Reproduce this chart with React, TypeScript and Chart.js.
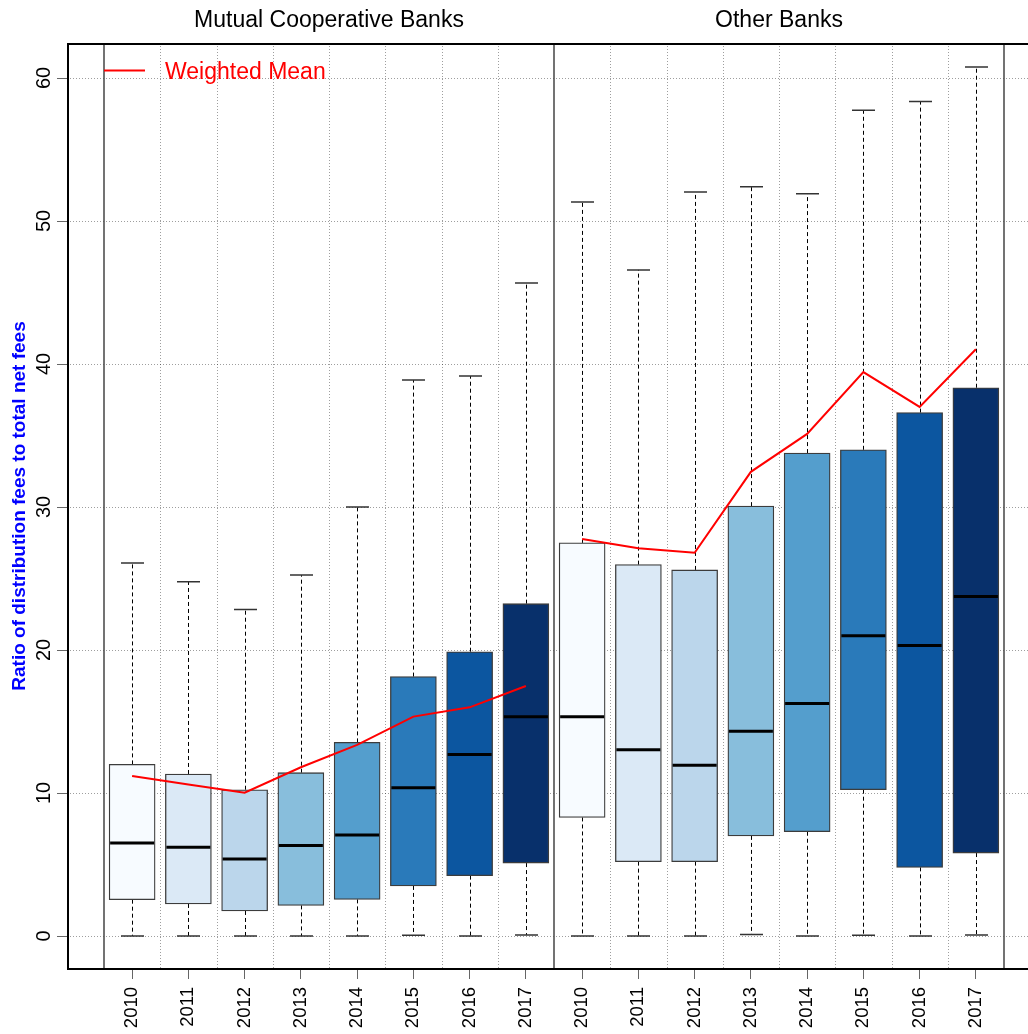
import React, { useEffect, useRef } from 'react';
import { Chart, registerables } from 'chart.js';

Chart.register(...registerables);

// ---------- data ----------
const years = ['2010', '2011', '2012', '2013', '2014', '2015', '2016', '2017'];
const groups = ['Mutual Cooperative Banks', 'Other Banks'];
const yTicks = [0, 10, 20, 30, 40, 50, 60];
const legendLabel = 'Weighted Mean';
const yTitle = 'Ratio of distribution fees to total net fees';

const mcbMin = [0, 0, 0, 0, 0, 0.05, 0, 0.07];
const mcbQ1 = [2.54, 2.24, 1.75, 2.14, 2.56, 3.5, 4.22, 5.1];
const mcbMedian = [6.5, 6.2, 5.38, 6.32, 7.06, 10.37, 12.7, 15.34];
const mcbQ3 = [12.0, 11.33, 10.23, 11.42, 13.54, 18.14, 19.88, 23.24];
const mcbMax = [26.08, 24.78, 22.84, 25.24, 30.0, 38.88, 39.16, 45.66];
const mcbMean = [11.19, 10.6, 10.02, 11.8, 13.36, 15.34, 15.99, 17.48];

const obMin = [0, 0, 0, 0.1, 0, 0.05, 0, 0.07];
const obQ1 = [8.29, 5.2, 5.2, 7.0, 7.29, 10.23, 4.8, 5.8];
const obMedian = [15.34, 13.03, 11.94, 14.31, 16.26, 21.0, 20.31, 23.74];
const obQ3 = [27.49, 25.97, 25.6, 30.06, 33.77, 34.0, 36.6, 38.34];
const obMax = [51.33, 46.58, 52.02, 52.4, 51.9, 57.74, 58.35, 60.77];
const obMean = [27.77, 27.11, 26.8, 32.46, 35.11, 39.43, 37.0, 41.03];

const boxColors = ['#F7FBFF', '#DBE9F6', '#BBD6EB', '#88BEDC', '#549ECD', '#2A7ABA', '#0C56A0', '#08306B'];

// ---------- derived ----------
const labels16 = [...years, ...years];
const xPos = labels16.map((_, i) => i + 0.5);
const allMin = [...mcbMin, ...obMin];
const allQ1 = [...mcbQ1, ...obQ1];
const allMed = [...mcbMedian, ...obMedian];
const allQ3 = [...mcbQ3, ...obQ3];
const allMax = [...mcbMax, ...obMax];

const FONT = '"Liberation Sans", Arial, Helvetica, sans-serif';
const RED = '#FF0000';
const GRID = 'rgba(0,0,0,0.38)';

const X_MIN = -37 / 56.25;
const X_MAX = (1028 - 104) / 56.25;
const Y_MIN = -33 / 14.3;
const Y_MAX = 60 + 35 / 14.3;

const boxPlugin = {
  id: 'boxPlugin',
  beforeDatasetsDraw(chart: any) {
    const { ctx, chartArea, scales } = chart;
    const { top, bottom } = chartArea;
    const x = scales.x;
    const y = scales.y;
    ctx.save();
    // vertical dotted grid between categories
    ctx.strokeStyle = GRID;
    ctx.lineWidth = 1;
    ctx.setLineDash([1, 2]);
    for (let k = 1; k < 16; k++) {
      if (k === 8) continue;
      const px = Math.round(x.getPixelForValue(k)) + 0.5;
      ctx.beginPath();
      ctx.moveTo(px, top);
      ctx.lineTo(px, bottom);
      ctx.stroke();
    }
    // panel separators
    ctx.setLineDash([]);
    ctx.strokeStyle = '#444';
    ctx.lineWidth = 1.5;
    [0, 8, 16].forEach((k) => {
      const px = x.getPixelForValue(k);
      ctx.beginPath();
      ctx.moveTo(px, top);
      ctx.lineTo(px, bottom);
      ctx.stroke();
    });
    // whiskers
    const meta = chart.getDatasetMeta(0);
    for (let i = 0; i < xPos.length; i++) {
      const el = meta.data[i];
      const cx = Math.round(x.getPixelForValue(xPos[i])) + 0.5;
      const half = el ? el.width / 4 : 11;
      ctx.strokeStyle = '#000';
      ctx.lineWidth = 1;
      ctx.setLineDash([4, 3]);
      ctx.beginPath();
      ctx.moveTo(cx, y.getPixelForValue(allQ3[i]));
      ctx.lineTo(cx, y.getPixelForValue(allMax[i]));
      ctx.moveTo(cx, y.getPixelForValue(allQ1[i]));
      ctx.lineTo(cx, y.getPixelForValue(allMin[i]));
      ctx.stroke();
      ctx.setLineDash([]);
      ctx.strokeStyle = '#333';
      ctx.lineWidth = 1.5;
      ctx.beginPath();
      const yMax = y.getPixelForValue(allMax[i]);
      const yMin = y.getPixelForValue(allMin[i]);
      ctx.moveTo(cx - half, yMax);
      ctx.lineTo(cx + half, yMax);
      ctx.moveTo(cx - half, yMin);
      ctx.lineTo(cx + half, yMin);
      ctx.stroke();
    }
    ctx.restore();
  },
  afterDatasetDraw(chart: any, args: any) {
    if (args.index !== 0) return;
    const { ctx, scales } = chart;
    const y = scales.y;
    const meta = chart.getDatasetMeta(0);
    ctx.save();
    ctx.strokeStyle = '#000';
    ctx.lineWidth = 3;
    for (let i = 0; i < xPos.length; i++) {
      const el = meta.data[i];
      const py = y.getPixelForValue(allMed[i]);
      ctx.beginPath();
      ctx.moveTo(el.x - el.width / 2 + 1, py);
      ctx.lineTo(el.x + el.width / 2 - 1, py);
      ctx.stroke();
    }
    ctx.restore();
  },
  afterDraw(chart: any) {
    const { ctx, chartArea, scales } = chart;
    const { top, bottom, left, right } = chartArea;
    const x = scales.x;
    const y = scales.y;
    ctx.save();
    // frame
    ctx.strokeStyle = '#000';
    ctx.lineWidth = 2;
    ctx.beginPath();
    ctx.moveTo(right + 5, top + 1);
    ctx.lineTo(left + 1, top + 1);
    ctx.lineTo(left + 1, bottom);
    ctx.lineTo(right + 5, bottom);
    ctx.stroke();
    // panel titles
    ctx.fillStyle = '#000';
    ctx.font = `23px ${FONT}`;
    ctx.textAlign = 'center';
    ctx.textBaseline = 'alphabetic';
    ctx.fillText(groups[0], x.getPixelForValue(4), 27);
    ctx.fillText(groups[1], x.getPixelForValue(12), 27);
    // legend
    ctx.strokeStyle = RED;
    ctx.lineWidth = 2;
    ctx.beginPath();
    ctx.moveTo(left + 37, 70.5);
    ctx.lineTo(left + 78, 70.5);
    ctx.stroke();
    ctx.fillStyle = RED;
    ctx.font = `23px ${FONT}`;
    ctx.textAlign = 'left';
    ctx.fillText(legendLabel, left + 98, 79);
    // y tick labels (rotated)
    ctx.fillStyle = '#000';
    ctx.font = `20px ${FONT}`;
    ctx.textAlign = 'center';
    ctx.textBaseline = 'alphabetic';
    yTicks.forEach((v) => {
      const py = y.getPixelForValue(v);
      ctx.save();
      ctx.translate(left - 17, py);
      ctx.rotate(-Math.PI / 2);
      ctx.fillText(String(v), 0, 0);
      ctx.restore();
    });
    ctx.restore();
  },
};

export default function App() {
  const ref = useRef<HTMLCanvasElement | null>(null);
  useEffect(() => {
    if (!ref.current) return;
    const chart = new Chart(ref.current, {
      type: 'bar',
      data: {
        datasets: [
          {
            type: 'bar',
            label: 'Boxes',
            data: xPos.map((xv, i) => ({ x: xv, y: [allQ1[i], allQ3[i]] })) as any,
            backgroundColor: [...boxColors, ...boxColors],
            borderColor: '#3c3c3c',
            borderWidth: 1.3,
            borderSkipped: false,
            barThickness: 46,
            order: 2,
          } as any,
          {
            type: 'line',
            label: legendLabel,
            data: years.map((_, i) => ({ x: xPos[i], y: mcbMean[i] })),
            borderColor: RED,
            borderWidth: 2,
            pointRadius: 0,
            tension: 0,
            order: 0,
          } as any,
          {
            type: 'line',
            label: legendLabel + ' (other)',
            data: years.map((_, i) => ({ x: xPos[i + 8], y: obMean[i] })),
            borderColor: RED,
            borderWidth: 2,
            pointRadius: 0,
            tension: 0,
            order: 0,
          } as any,
        ],
      },
      options: {
        animation: false,
        responsive: false,
        devicePixelRatio: 1,
        layout: { padding: { top: 43, left: 0, right: 0, bottom: 0 } },
        plugins: {
          legend: { display: false },
          tooltip: { enabled: false },
          title: { display: false },
        },
        scales: {
          x: {
            type: 'linear',
            min: X_MIN,
            max: X_MAX,
            offset: false,
            afterBuildTicks: (s: any) => {
              s.ticks = xPos.map((v) => ({ value: v }));
            },
            afterFit: (s: any) => {
              s.height = 65;
            },
            ticks: {
              autoSkip: false,
              minRotation: 90,
              maxRotation: 90,
              padding: 8,
              color: '#000',
              font: { family: FONT, size: 18.5 },
              callback: (_v: any, i: number) => labels16[i],
            },
            grid: {
              offset: false,
              drawOnChartArea: false,
              drawTicks: true,
              tickLength: 10,
              tickColor: '#666',
              tickWidth: 1,
            },
            border: { display: false },
          },
          y: {
            type: 'linear',
            min: Y_MIN,
            max: Y_MAX,
            afterBuildTicks: (s: any) => {
              s.ticks = yTicks.map((v) => ({ value: v }));
            },
            afterFit: (s: any) => {
              s.width = 67;
            },
            ticks: { display: false },
            grid: {
              color: GRID,
              lineWidth: 1,
              drawTicks: true,
              tickLength: 10,
              tickColor: '#666',
              tickWidth: 1,
              tickBorderDash: [],
            },
            border: { display: false, dash: [1, 2] },
            title: {
              display: true,
              text: yTitle,
              color: '#0000FF',
              font: { family: FONT, size: 19, weight: 'bold' },
              padding: { top: 8, bottom: 0 },
            },
          },
        },
      } as any,
      plugins: [boxPlugin],
    });
    return () => chart.destroy();
  }, []);

  return (
    <div style={{ position: 'fixed', left: 0, top: 0, width: 1028, height: 1034, background: '#fff' }}>
      <canvas ref={ref} width={1028} height={1034} style={{ display: 'block', width: 1028, height: 1034 }} />
    </div>
  );
}
